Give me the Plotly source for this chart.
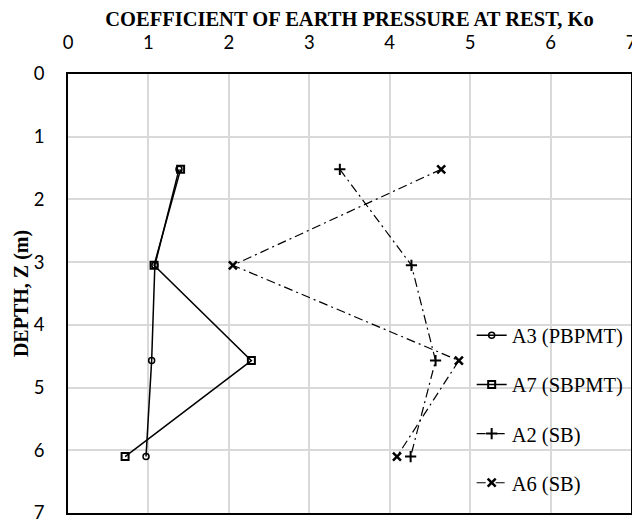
import plotly.graph_objects as go

# depths (m)
depth = [1.52, 3.05, 4.57, 6.10]

# Ko values per test
ko_a3 = [1.38, 1.08, 1.04, 0.97]
ko_a7 = [1.40, 1.07, 2.28, 0.71]
ko_a2 = [3.38, 4.27, 4.57, 4.26]
ko_a6 = [4.64, 2.05, 4.86, 4.09]

x_ticks = [0, 1, 2, 3, 4, 5, 6, 7]
y_ticks = [0, 1, 2, 3, 4, 5, 6, 7]

serif = "Liberation Serif, Times New Roman, serif"
sans = "Lato, Carlito, sans-serif"

fig = go.Figure()

fig.add_trace(go.Scatter(x=ko_a3, y=depth, mode='lines+markers', name='A3 (PBPMT)',
                         legendgroup='a3',
                         line=dict(color='black', width=1.5),
                         marker=dict(symbol='circle-open', size=6, color='black',
                                     line=dict(width=1.5))))
fig.add_trace(go.Scatter(x=ko_a7, y=depth, mode='lines+markers', name='A7 (SBPMT)',
                         legendgroup='a7',
                         line=dict(color='black', width=1.5),
                         marker=dict(symbol='square-open', size=7, color='black',
                                     line=dict(width=2))))
fig.add_trace(go.Scatter(x=ko_a2, y=depth, mode='lines+markers', name='A2 (SB)',
                         legendgroup='a2',
                         line=dict(color='black', width=1.2, dash='9px,4px,2px,4px'),
                         marker=dict(symbol='cross-thin', size=8, color='black',
                                     line=dict(width=2, color='black'))))
fig.add_trace(go.Scatter(x=ko_a6, y=depth, mode='lines+markers', name='A6 (SB)',
                         legendgroup='a6',
                         line=dict(color='black', width=1.2, dash='9px,4px,2px,4px'),
                         marker=dict(symbol='x-thin', size=8, color='black',
                                     line=dict(width=2.5, color='black'))))

# page body has an 8px margin, so the figure is shrunk by that much
fig.update_layout(
    width=632, height=519,
    margin=dict(l=60, r=4, t=55, b=11),
    paper_bgcolor='white', plot_bgcolor='white',
    font=dict(family=sans, size=18.5, color='black'),
    xaxis=dict(side='top', range=[0, 7], tickvals=x_ticks,
               showgrid=True, gridcolor='#d9d9d9', gridwidth=1.5,
               showline=True, linecolor='black', linewidth=1.5, mirror=True,
               zeroline=False, ticks='', ticklabelstandoff=16,
               title=dict(text='<b>COEFFICIENT OF EARTH PRESSURE AT REST, Ko</b>',
                          font=dict(family=serif, size=20.5), standoff=4)),
    yaxis=dict(range=[7, 0], tickvals=y_ticks,
               showgrid=True, gridcolor='#d9d9d9', gridwidth=1.5,
               showline=True, linecolor='black', linewidth=1.5, mirror=True,
               zeroline=False, ticks='', ticklabelstandoff=18,
               title=dict(text='<b>DEPTH, Z (m)</b>',
                          font=dict(family=serif, size=20), standoff=0)),
    legend=dict(x=0.717, y=0.45, xanchor='left', yanchor='top',
                bgcolor='rgba(0,0,0,0)', tracegroupgap=19.5,
                font=dict(family=serif, size=20.5)),
)

fig.write_html("out.html")
